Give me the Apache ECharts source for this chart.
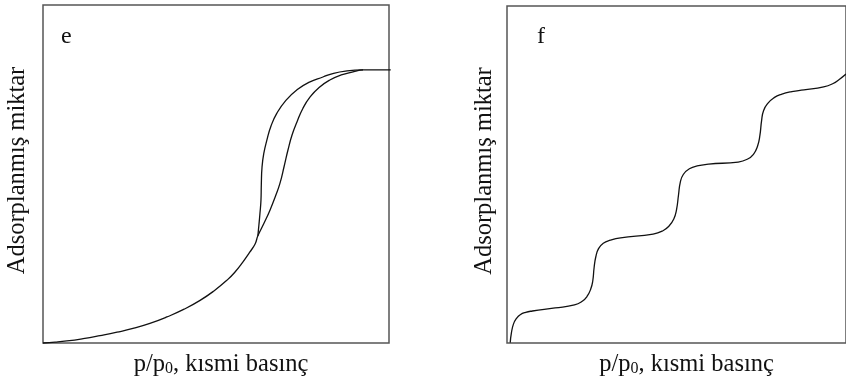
<!DOCTYPE html>
<html>
<head>
<meta charset="utf-8">
<script src="https://cdn.jsdelivr.net/npm/echarts@6/dist/echarts.min.js"></script>
<style>
  html, body { margin: 0; padding: 0; background: #fff; }
  #chart { width: 846px; height: 383px; }
</style>
</head>
<body>
<div id="chart"></div>
<script>
// Panel e: type IV isotherm with a hysteresis loop (x = p/p0 %, y = amount %)
const adsorptionE = [
  [0, 0], [3.5, 0.25], [6.9, 0.6], [11.6, 1.3], [16.5, 2.2], [21.4, 3.2], [26, 4.3],
  [30.9, 5.8], [35.8, 7.7], [40.8, 10], [45.4, 12.6], [49.4, 15.4], [53.2, 18.6],
  [55.5, 21], [57.8, 24], [59.7, 26.8], [61.3, 29.3], [62.1, 31.7], [63.9, 35.5],
  [65.6, 39.3], [67.1, 43.2], [68.5, 47.3], [69.7, 52.3], [70.8, 57.1], [72, 61.6],
  [73.4, 65.4], [75.1, 69.4], [77.2, 72.8], [79.8, 75.6], [82.9, 77.8], [86.2, 79.3],
  [89.6, 80.2], [92.5, 80.8], [100.5, 80.8]
];
const desorptionE = [
  [92.5, 80.8], [87.9, 80.5], [84, 79.8], [80.9, 78.7], [77, 77.2], [73.4, 74.9],
  [70.2, 71.8], [67.6, 68], [65.9, 64.2], [64.7, 60], [63.8, 56], [63.3, 52],
  [63.1, 47], [63, 42.3], [62.7, 38.3], [62.4, 34.9], [62.1, 31.7]
];
// Panel f: stepwise (type VI) isotherm
const stepwiseF = [
  [0.95, 0.1], [1.3, 3], [1.9, 5.6], [2.8, 7.3], [3.9, 8.4], [5.5, 9.1], [7.5, 9.5],
  [14.2, 10.4], [19.9, 11.3], [22.2, 12.4], [23.6, 13.8], [24.7, 16], [25.3, 18.4],
  [25.7, 22.4], [26.2, 25.6], [27, 28], [28.4, 29.6], [30.5, 30.5], [33.5, 31.2],
  [43.1, 32.3], [46, 33.3], [47.8, 34.7], [49.2, 36.8], [50, 39.5], [50.6, 44],
  [51.1, 47.6], [52, 50], [53.8, 51.7], [56.5, 52.6], [59.5, 53.1], [68.2, 53.7],
  [71, 54.6], [72.7, 56], [73.9, 58.4], [74.6, 61.6], [75.1, 66], [75.7, 69],
  [77, 71.2], [78.8, 72.8], [80.9, 73.8], [84, 74.6], [87.6, 75.1], [93.4, 76],
  [96.2, 77], [98, 78.2], [100, 79.8]
];
const panelLabels = ['e', 'f'];
const xTitle = 'p/p{sub|0}, kısmi basınç';
const yTitle = 'Adsorplanmış miktar';

const FONT = '"Liberation Serif", "DejaVu Serif", serif';
const INK = '#111';

function nameStyle(padding) {
  return {
    fontFamily: FONT, fontSize: 24.5, color: INK, padding,
    rich: {
      sub: { fontFamily: FONT, fontSize: 16, color: INK, verticalAlign: 'bottom', lineHeight: 10 }
    }
  };
}

function xAxisFor(gridIndex, shift) {
  return {
    type: 'value', gridIndex, min: 0, max: 100,
    name: xTitle, nameLocation: 'middle', nameGap: 9, nameTextStyle: nameStyle([0, 0, 0, shift]),
    axisLine: { show: false }, axisTick: { show: false },
    axisLabel: { show: false }, splitLine: { show: false }
  };
}
function yAxisFor(gridIndex, gap) {
  return {
    type: 'value', gridIndex, min: 0, max: 100,
    name: yTitle, nameLocation: 'middle', nameGap: gap, nameRotate: 90, nameTextStyle: nameStyle([0, 0, 0, 7]),
    axisLine: { show: false }, axisTick: { show: false },
    axisLabel: { show: false }, splitLine: { show: false }
  };
}
const curve = (data, xi) => ({
  type: 'line', xAxisIndex: xi, yAxisIndex: xi, data,
  smooth: 0.5, showSymbol: false, clip: false,
  lineStyle: { color: INK, width: 1.3 }
});

const chart = echarts.init(document.getElementById('chart'), null, { renderer: 'canvas' });
chart.setOption({
  animation: false,
  backgroundColor: '#fff',
  title: [
    { text: panelLabels[0], left: 56, top: 20, textStyle: { fontFamily: FONT, fontSize: 24, fontWeight: 'normal', color: INK } },
    { text: panelLabels[1], left: 532, top: 20, textStyle: { fontFamily: FONT, fontSize: 24, fontWeight: 'normal', color: INK } }
  ],
  grid: [
    { left: 43, top: 5, width: 346, height: 338, show: true, borderColor: '#555', borderWidth: 1.5, backgroundColor: 'transparent' },
    { left: 507, top: 6, width: 346, height: 337, show: true, borderColor: '#555', borderWidth: 1.5, backgroundColor: 'transparent' }
  ],
  xAxis: [xAxisFor(0, 10), xAxisFor(1, 20)],
  yAxis: [yAxisFor(0, 13), yAxisFor(1, 10)],
  series: [curve(adsorptionE, 0), curve(desorptionE, 0), curve(stepwiseF, 1)]
});
</script>
</body>
</html>
